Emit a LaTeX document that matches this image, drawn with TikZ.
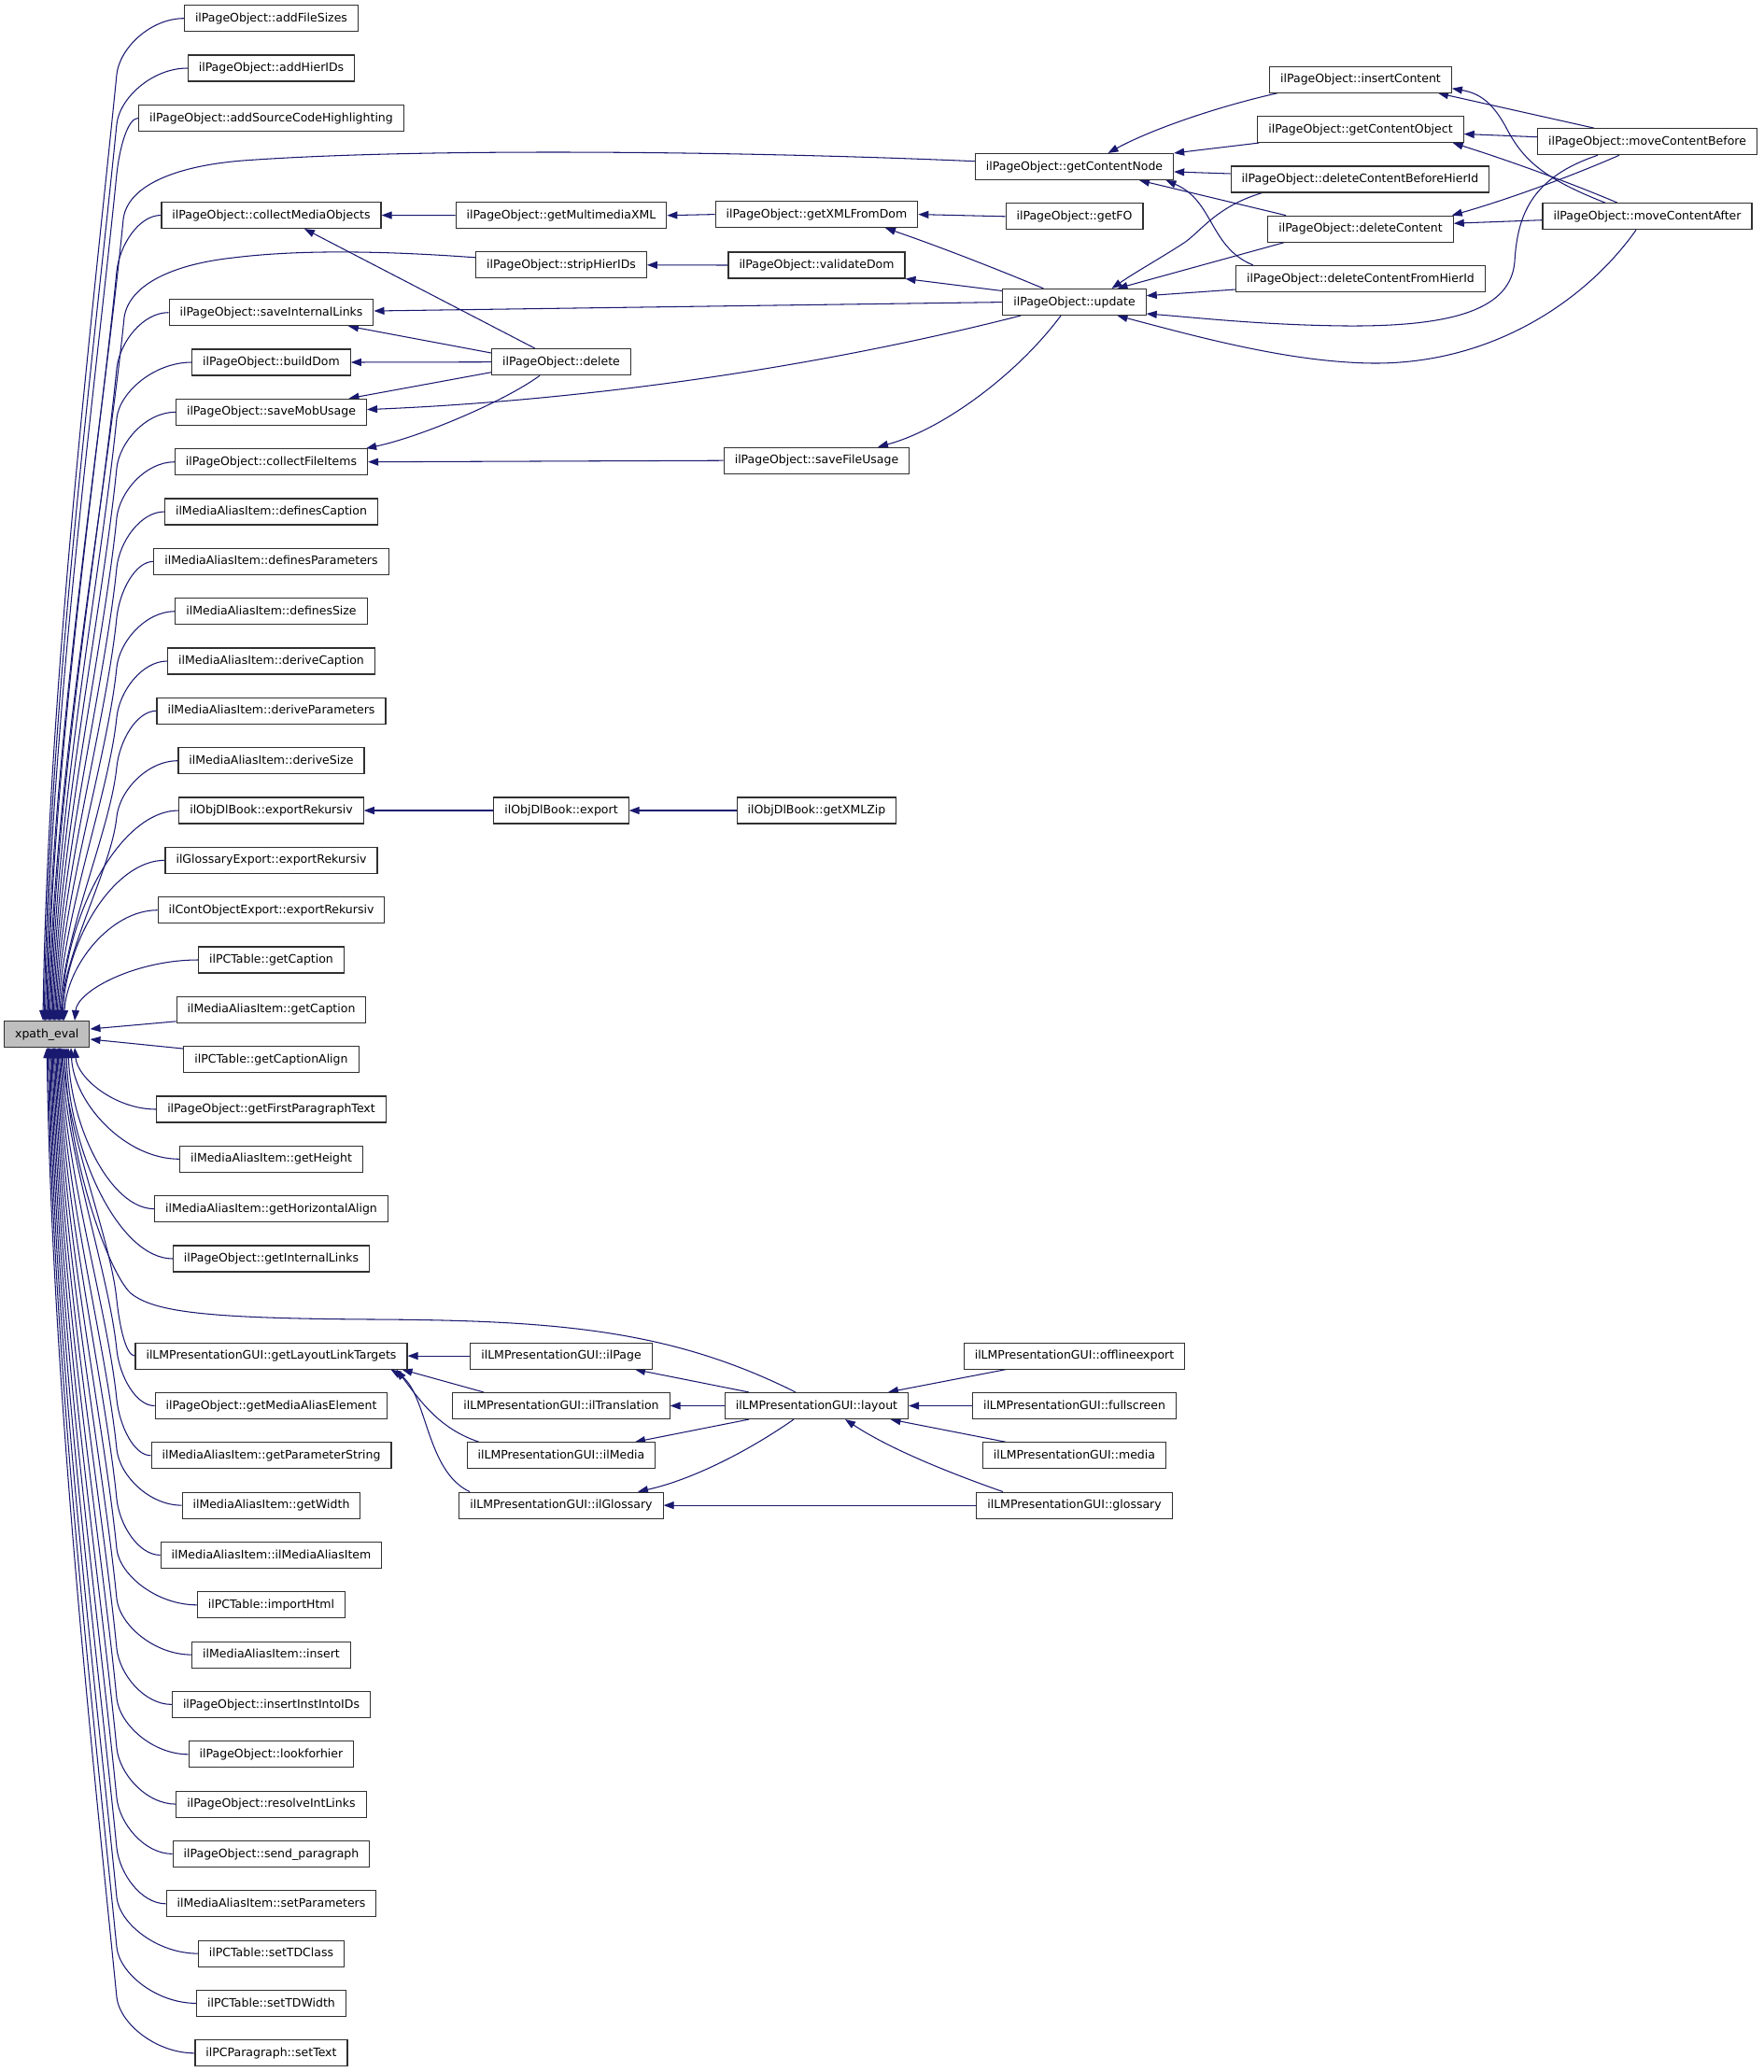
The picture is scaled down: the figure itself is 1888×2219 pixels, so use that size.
\documentclass[tikz,border=0pt]{standalone}
\usepackage{fontspec}
\newfontfamily\dv{DejaVu Sans}
\usetikzlibrary{arrows.meta,calc}
\definecolor{edgec}{RGB}{25,25,112}
\definecolor{boxc}{RGB}{48,48,48}
\definecolor{hl}{RGB}{191,191,191}
\pgfdeclarelayer{bg}
\pgfsetlayers{bg,main}
\begin{document}
\begin{tikzpicture}[x=1pt,y=1pt,
  box/.style={draw=boxc, line width=1.1pt, fill=white, font=\dv\fontsize{12.5}{15}\selectfont,
    inner xsep=11.5pt, inner ysep=0pt, minimum height=28pt, text height=9.6pt, text depth=2.4pt},
  edge/.style={draw=edgec, line width=1.05pt, -{Triangle[length=11pt,width=8pt]}}]
\useasboundingbox (0,0) rectangle (1888,-2219);
% ---- left column (x = 290.5)
\node[box] (r0) at (290.5,-19.7) {ilPageObject::addFileSizes};
\node[box] (r1) at (290.5,-73.0) {ilPageObject::addHierIDs};
\node[box] (r2) at (290.5,-126.4) {ilPageObject::addSourceCodeHighlighting};
\node[box] (r4) at (290.5,-230.5) {ilPageObject::collectMediaObjects};
\node[box] (r6) at (290.5,-334.7) {ilPageObject::saveInternalLinks};
\node[box] (r7) at (290.5,-388.0) {ilPageObject::buildDom};
\node[box] (r8) at (290.5,-441.3) {ilPageObject::saveMobUsage};
\node[box] (r9) at (290.5,-494.7) {ilPageObject::collectFileItems};
\node[box] (r10) at (290.5,-548.0) {ilMediaAliasItem::definesCaption};
\node[box] (r11) at (290.5,-601.3) {ilMediaAliasItem::definesParameters};
\node[box] (r12) at (290.5,-654.7) {ilMediaAliasItem::definesSize};
\node[box] (r13) at (290.5,-708.0) {ilMediaAliasItem::deriveCaption};
\node[box] (r14) at (290.5,-761.3) {ilMediaAliasItem::deriveParameters};
\node[box] (r15) at (290.5,-814.7) {ilMediaAliasItem::deriveSize};
\node[box] (r16) at (290.5,-868.0) {ilObjDlBook::exportRekursiv};
\node[box] (r17) at (290.5,-921.3) {ilGlossaryExport::exportRekursiv};
\node[box] (r18) at (290.5,-974.7) {ilContObjectExport::exportRekursiv};
\node[box] (r19) at (290.5,-1028.0) {ilPCTable::getCaption};
\node[box] (r20) at (290.5,-1081.3) {ilMediaAliasItem::getCaption};
\node[box] (r21) at (290.5,-1134.6) {ilPCTable::getCaptionAlign};
\node[box] (r22) at (290.5,-1188.0) {ilPageObject::getFirstParagraphText};
\node[box] (r23) at (290.5,-1241.3) {ilMediaAliasItem::getHeight};
\node[box] (r24) at (290.5,-1294.6) {ilMediaAliasItem::getHorizontalAlign};
\node[box] (r25) at (290.5,-1348.0) {ilPageObject::getInternalLinks};
\node[box] (r27) at (290.5,-1452.1) {ilLMPresentationGUI::getLayoutLinkTargets};
\node[box] (r28) at (290.5,-1505.5) {ilPageObject::getMediaAliasElement};
\node[box] (r29) at (290.5,-1558.8) {ilMediaAliasItem::getParameterString};
\node[box] (r30) at (290.5,-1612.1) {ilMediaAliasItem::getWidth};
\node[box] (r31) at (290.5,-1665.4) {ilMediaAliasItem::ilMediaAliasItem};
\node[box] (r32) at (290.5,-1718.8) {ilPCTable::importHtml};
\node[box] (r33) at (290.5,-1772.1) {ilMediaAliasItem::insert};
\node[box] (r34) at (290.5,-1825.4) {ilPageObject::insertInstIntoIDs};
\node[box] (r35) at (290.5,-1878.8) {ilPageObject::lookforhier};
\node[box] (r36) at (290.5,-1932.1) {ilPageObject::resolveIntLinks};
\node[box] (r37) at (290.5,-1985.4) {ilPageObject::send\_paragraph};
\node[box] (r38) at (290.5,-2038.8) {ilMediaAliasItem::setParameters};
\node[box] (r39) at (290.5,-2092.1) {ilPCTable::setTDClass};
\node[box] (r40) at (290.5,-2145.4) {ilPCTable::setTDWidth};
\node[box] (r41) at (290.5,-2198.8) {ilPCParagraph::setText};
% ---- root
\node[box, fill=hl] (xpath) at (50.3,-1107.5) {xpath\_eval};
% ---- rank 2 (x = 601)
\node[box] (getMM) at (601,-230.7) {ilPageObject::getMultimediaXML};
\node[box] (strip) at (601,-283.8) {ilPageObject::stripHierIDs};
\node[box] (delete) at (601,-387.7) {ilPageObject::delete};
\node[box] (export) at (601,-868.0) {ilObjDlBook::export};
\node[box] (ilPage) at (601,-1452.1) {ilLMPresentationGUI::ilPage};
\node[box] (ilTrans) at (601,-1505.5) {ilLMPresentationGUI::ilTranslation};
\node[box] (ilMedia) at (601,-1558.8) {ilLMPresentationGUI::ilMedia};
\node[box] (ilGloss) at (601,-1612.1) {ilLMPresentationGUI::ilGlossary};
% ---- rank 3 (x = 874.5)
\node[box] (xmlDom) at (874.5,-229.6) {ilPageObject::getXMLFromDom};
\node[box] (validate) at (874.5,-284.0) {ilPageObject::validateDom};
\node[box] (saveFU) at (874.5,-493.2) {ilPageObject::saveFileUsage};
\node[box] (xmlZip) at (874.5,-868.0) {ilObjDlBook::getXMLZip};
\node[box] (layout) at (874.5,-1505.5) {ilLMPresentationGUI::layout};
% ---- rank 4 (x = 1150.5)
\node[box] (gcn) at (1150.5,-178.5) {ilPageObject::getContentNode};
\node[box] (getFO) at (1150.5,-231.8) {ilPageObject::getFO};
\node[box] (update) at (1150.5,-323.5) {ilPageObject::update};
\node[box] (offline) at (1150.5,-1452.1) {ilLMPresentationGUI::offlineexport};
\node[box] (fullscr) at (1150.5,-1505.5) {ilLMPresentationGUI::fullscreen};
\node[box] (media) at (1150.5,-1558.8) {ilLMPresentationGUI::media};
\node[box] (glossary) at (1150.5,-1612.1) {ilLMPresentationGUI::glossary};
% ---- rank 5 (x = 1457)
\node[box] (insC) at (1457,-85.2) {ilPageObject::insertContent};
\node[box] (getCO) at (1457,-138.5) {ilPageObject::getContentObject};
\node[box] (delBefore) at (1456.5,-192.0) {ilPageObject::deleteContentBeforeHierId};
\node[box] (delC) at (1457,-245.2) {ilPageObject::deleteContent};
\node[box] (delFrom) at (1457,-298.5) {ilPageObject::deleteContentFromHierId};
% ---- rank 6 (x = 1764)
\node[box] (moveB) at (1764,-151.7) {ilPageObject::moveContentBefore};
\node[box] (moveA) at (1764,-231.7) {ilPageObject::moveContentAfter};

\begin{pgfonlayer}{bg}
\fill[white] (0,0) rectangle (1888,-2219);
% ---- far callers above xpath
\foreach \nd/\ex in {r0/46, r1/47.25, r2/48.5, r4/51, r6/53.5, r7/54.75, r8/56, r9/57.25, r10/58.5, r11/59.75, r12/61, r13/62.25, r14/63.5, r15/64.75}
{\draw[edge] let \p1=(\nd.west), \p2=(xpath.north), \n1={\y1-60pt-\y2} in
  (\p1) .. controls (\x1/2+62.5pt,\y1) and (128pt,\y1-32pt) .. (125pt,\y1-60pt)
  .. controls (125pt-0.025*\n1,\y1-60pt-0.25*\n1) and (\ex*1pt+5pt,\y2+0.35*\n1) .. (\ex*1pt,\y2);}
% ---- near callers above
\foreach \nd/\ex in {r16/66, r17/67.25, r18/68.5, r19/80}
{\draw[edge] let \p1=(\nd.west), \p2=(xpath.north), \n1={\y1-\y2} in
  (\p1) .. controls (\x1/2+\ex*0.5pt,\y1) and (\ex*1pt+3pt,\y2+0.5*\n1) .. (\ex*1pt,\y2);}
\draw[edge] ([yshift=2pt]r20.south west) -- ([yshift=5.5pt]xpath.east);
\draw[edge] ([yshift=-3pt]r21.north west) -- ([yshift=-5.5pt]xpath.east);
% ---- near callers below
\foreach \nd/\ex in {r22/80, r23/76, r24/73, r25/71}
{\draw[edge] let \p1=(\nd.west), \p2=(xpath.south), \n1={\y2-\y1} in
  (\p1) .. controls (\x1/2+\ex*0.5pt,\y1) and (\ex*1pt+3pt,\y2-0.5*\n1) .. (\ex*1pt,\y2);}
% ---- far callers below
\foreach \nd/\ex in {r27/67, r28/65.8, r29/64.6, r30/63.4, r31/62.2, r32/61, r33/59.8, r34/58.6, r35/57.4, r36/56.2, r37/55, r38/53.8, r39/52.6, r40/51.4, r41/50.2}
{\draw[edge] let \p1=(\nd.west), \p2=(xpath.south), \n1={\y2-\y1-60pt} in
  (\p1) .. controls (\x1/2+62.5pt,\y1) and (128pt,\y1+32pt) .. (125pt,\y1+60pt)
  .. controls (125pt-0.025*\n1,\y1+60pt+0.25*\n1) and (\ex*1pt+5pt,\y2-0.35*\n1) .. (\ex*1pt,\y2);}
% ---- long edges to xpath
\draw[edge] ([yshift=5.8pt]gcn.west) .. controls (800,-162) and (450,-158) .. (260,-172)
  .. controls (185,-178) and (136,-200) .. (132,-235)
  .. controls (111,-449) and (55,-793) .. ([xshift=-0.5pt]xpath.north);
\draw[edge] ([yshift=8pt]strip.west) .. controls (430,-270) and (330,-266) .. (250,-276)
  .. controls (185,-283) and (138,-305) .. (133,-340)
  .. controls (114,-528) and (57.5,-829) .. ([xshift=2pt]xpath.north);
\draw[edge] ([xshift=-22.5pt]layout.north) .. controls (720,-1425) and (600,-1414) .. (400,-1413)
  .. controls (220,-1412) and (165,-1405) .. (140,-1385)
  .. controls (118,-1365) and (74,-1250) .. ([xshift=18.7pt]xpath.south);
% ---- upper middle
\draw[edge] (getMM.west) -- (r4.east);
\draw[edge] ([xshift=-28pt]delete.north) -- ([xshift=35.5pt]r4.south);
\draw[edge] ([yshift=9.7pt]delete.west) -- ([xshift=82.5pt]r6.south);
\draw[edge] (delete.west) -- (r7.east);
\draw[edge] ([yshift=-11pt]delete.west) -- ([xshift=83pt]r8.north);
\draw[edge] ([xshift=-23pt]delete.south) .. controls (540,-430) and (450,-468) .. ([xshift=-2pt]r9.north east);
\draw[edge] ([yshift=-0.1pt]update.west) -- ([yshift=1.7pt]r6.east);
\draw[edge] ([xshift=-57.5pt]update.south) .. controls (850,-400) and (600,-430) .. ([yshift=2.7pt]r8.east);
\draw[edge] (saveFU.west) -- (r9.east);
\draw[edge] (xmlDom.west) -- (getMM.east);
\draw[edge] (validate.west) -- (strip.east);
\draw[edge] (getFO.west) -- (xmlDom.east);
\draw[edge] ([xshift=-33pt]update.north) .. controls (1060,-285) and (1000,-262) .. ([xshift=73.5pt]xmlDom.south);
\draw[edge] ([yshift=12pt]update.west) -- (validate.south east);
\draw[edge] ([xshift=-14.5pt]update.south) .. controls (1090,-400) and (1010,-460) .. ([xshift=65.5pt]saveFU.north);
% ---- right cluster
\draw[edge] ([xshift=-89pt]insC.south) .. controls (1300,-115) and (1230,-140) .. ([xshift=36pt]gcn.north);
\draw[edge] ([xshift=2pt]getCO.south west) -- (gcn.north east);
\draw[edge] ([yshift=6pt]delBefore.west) -- ([yshift=-5.5pt]gcn.east);
\draw[edge] ([xshift=-80pt]delC.north) -- ([xshift=69.5pt]gcn.south);
\draw[edge] ([xshift=-115pt]delFrom.north) .. controls (1295,-265) and (1300,-215) .. ([xshift=98pt]gcn.south);
\draw[edge] ([xshift=-105pt]delBefore.south) .. controls (1300,-222) and (1285,-250) .. (1265,-262)
  .. controls (1240,-278) and (1215,-292) .. ([xshift=40pt]update.north);
\draw[edge] ([xshift=-82pt]delC.south) -- ([xshift=46pt]update.north);
\draw[edge] ([yshift=-11.5pt]delFrom.west) -- ([yshift=6.8pt]update.east);
\draw[edge] ([xshift=-53pt]moveB.south) .. controls (1640,-190) and (1625,-230) .. (1622,-280)
  .. controls (1618,-330) and (1560,-350) .. (1440,-349)
  .. controls (1350,-348) and (1280,-340) .. ([yshift=-12.5pt]update.east);
\draw[edge] ([xshift=-12pt]moveA.south) .. controls (1700,-320) and (1600,-390) .. (1470,-389)
  .. controls (1380,-388) and (1280,-360) .. ([xshift=46pt]update.south);
\draw[edge] ([xshift=-57pt]moveB.north) -- ([xshift=83pt]insC.south);
\draw[edge] ([xshift=-45pt]moveA.north) .. controls (1650,-190) and (1630,-170) .. (1612,-135)
  .. controls (1598,-110) and (1585,-100) .. ([yshift=-9.5pt]insC.east);
\draw[edge] ([yshift=5pt]moveB.west) -- ([yshift=-5pt]getCO.east);
\draw[edge] ([xshift=-32pt]moveA.north) .. controls (1680,-195) and (1610,-170) .. ([xshift=-12pt]getCO.south east);
\draw[edge] ([xshift=-30pt]moveB.south) .. controls (1680,-190) and (1610,-215) .. ([xshift=-2pt]delC.north east);
\draw[edge] ([yshift=-4pt]moveA.west) -- ([yshift=6pt]delC.east);
% ---- export
\draw[edge] (export.west) -- (r16.east);
\draw[edge] (xmlZip.west) -- (export.east);
% ---- layout cluster
\draw[edge] (ilPage.west) -- (r27.east);
\draw[edge] ([xshift=-83pt]ilTrans.north) -- ([xshift=-6pt]r27.south east);
\draw[edge] ([xshift=-88pt]ilMedia.north) .. controls (470,-1530) and (450,-1500) .. ([xshift=-12pt]r27.south east);
\draw[edge] ([xshift=-98pt]ilGloss.north) .. controls (455,-1575) and (458,-1490) .. ([xshift=-18pt]r27.south east);
\draw[edge] ([xshift=-72.5pt]layout.north) -- ([xshift=79pt]ilPage.south);
\draw[edge] (layout.west) -- (ilTrans.east);
\draw[edge] ([xshift=-72.5pt]layout.south) -- ([xshift=79pt]ilMedia.north);
\draw[edge] ([xshift=-24.5pt]layout.south) .. controls (800,-1555) and (740,-1585) .. ([xshift=82pt]ilGloss.north);
\draw[edge] ([xshift=-73.5pt]offline.south) -- ([xshift=76.5pt]layout.north);
\draw[edge] (fullscr.west) -- (layout.east);
\draw[edge] ([xshift=-73.5pt]media.north) -- ([xshift=79pt]layout.south);
\draw[edge] ([xshift=-76.5pt]glossary.north) .. controls (1010,-1575) and (950,-1550) .. ([xshift=30.5pt]layout.south);
\draw[edge] (glossary.west) -- (ilGloss.east);
\end{pgfonlayer}
\end{tikzpicture}
\end{document}
